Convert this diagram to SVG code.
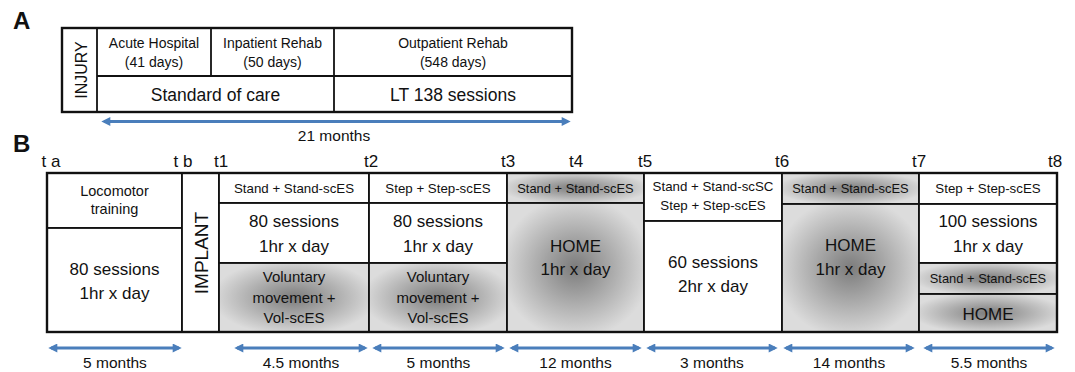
<svg xmlns="http://www.w3.org/2000/svg" width="1075" height="372" viewBox="0 0 1075 372">
<defs>
<style>
text{font-family:"Liberation Sans",Arial,sans-serif;fill:#111;}
.lbl{font-weight:bold;font-size:24px;}
.s14{font-size:14px;text-anchor:middle;}
.s13{font-size:13.3px;text-anchor:middle;}
.s129{font-size:12.9px;text-anchor:middle;}
.s15{font-size:15px;text-anchor:middle;}
.s17{font-size:17px;text-anchor:middle;}
.mo{font-size:15.5px;text-anchor:middle;}
.t{font-size:17px;text-anchor:middle;}
.w{fill:#fff;stroke:#111;stroke-width:1.8;}
.g{fill:url(#grad);stroke:#111;stroke-width:1.8;}
.ln{stroke:#111;stroke-width:1.8;fill:none;}
.out{fill:none;stroke:#111;stroke-width:2.4;}
.arr{stroke:#4a7ebb;stroke-width:3;fill:none;marker-start:url(#ah);marker-end:url(#ah);}
</style>
<radialGradient id="grad" cx="0.5" cy="0.5" r="0.55">
<stop offset="0" stop-color="#7c7c7c"/>
<stop offset="1" stop-color="#dcdcdc"/>
</radialGradient>
<marker id="ah" viewBox="0 0 10 10" refX="7" refY="5" markerWidth="10" markerHeight="9" markerUnits="userSpaceOnUse" orient="auto-start-reverse">
<path d="M0,0 L10,5 L0,10 z" fill="#4a7ebb"/>
</marker>
</defs>
<rect width="1075" height="372" fill="#fff"/>

<text class="lbl" x="13" y="29">A</text>
<text class="lbl" x="13" y="152">B</text>

<g id="panelA">
<rect class="w" x="62" y="28" width="510" height="84"/>
<line class="ln" x1="97" y1="28" x2="97" y2="112"/>
<line class="ln" x1="97" y1="76" x2="572" y2="76"/>
<line class="ln" x1="211" y1="28" x2="211" y2="76"/>
<line class="ln" x1="334" y1="28" x2="334" y2="112"/>
<rect class="out" x="62" y="28" width="510" height="84"/>
<text class="s14" font-size="16" transform="translate(86.5,70) rotate(-90)" style="font-size:16px">INJURY</text>
<text class="s14" x="154" y="48">Acute Hospital</text>
<text class="s14" x="154" y="67">(41 days)</text>
<text class="s14" x="272.5" y="48">Inpatient Rehab</text>
<text class="s14" x="272.5" y="67">(50 days)</text>
<text class="s14" x="453" y="48">Outpatient Rehab</text>
<text class="s14" x="453" y="67">(548 days)</text>
<text class="s17" x="215.5" y="101" style="font-size:17.5px">Standard of care</text>
<text class="s17" x="453" y="101" style="font-size:17.5px">LT 138 sessions</text>
</g>

<g id="timepoints">
<text class="t" x="51" y="167">t a</text>
<text class="t" x="183" y="167">t b</text>
<text class="t" x="221" y="167">t1</text>
<text class="t" x="371" y="167">t2</text>
<text class="t" x="508" y="167">t3</text>
<text class="t" x="576" y="167">t4</text>
<text class="t" x="645" y="167">t5</text>
<text class="t" x="782" y="167">t6</text>
<text class="t" x="919" y="167">t7</text>
<text class="t" x="1055" y="167">t8</text>
</g>

<g id="col-ta-tb">
<rect class="w" x="47" y="173" width="135" height="55"/>
<rect class="w" x="47" y="228" width="135" height="104"/>
<text class="s14" x="114.5" y="196" style="font-size:14.5px">Locomotor</text>
<text class="s14" x="114.5" y="214" style="font-size:14.5px">training</text>
<text class="s17" x="114.5" y="275">80 sessions</text>
<text class="s17" x="114.5" y="299">1hr x day</text>
</g>

<g id="col-implant">
<rect class="w" x="182" y="173" width="37" height="159"/>
<text class="s17" transform="translate(208,253) rotate(-90)" style="font-size:19px">IMPLANT</text>
</g>

<g id="col-t1-t2">
<rect class="w" x="219" y="173" width="150" height="30"/>
<rect class="w" x="219" y="203" width="150" height="60"/>
<rect class="g" x="219" y="263" width="150" height="69"/>
<text class="s13" x="294" y="193">Stand + Stand-scES</text>
<text class="s17" x="294" y="227">80 sessions</text>
<text class="s17" x="294" y="252">1hr x day</text>
<text class="s15" x="294" y="282">Voluntary</text>
<text class="s15" x="294" y="303">movement +</text>
<text class="s15" x="294" y="323">Vol-scES</text>
</g>

<g id="col-t2-t3">
<rect class="w" x="369" y="173" width="138" height="30"/>
<rect class="w" x="369" y="203" width="138" height="60"/>
<rect class="g" x="369" y="263" width="138" height="69"/>
<text class="s13" x="438" y="193">Step + Step-scES</text>
<text class="s17" x="438" y="227">80 sessions</text>
<text class="s17" x="438" y="252">1hr x day</text>
<text class="s15" x="438" y="282">Voluntary</text>
<text class="s15" x="438" y="303">movement +</text>
<text class="s15" x="438" y="323">Vol-scES</text>
</g>

<g id="col-t3-t5">
<rect class="g" x="507" y="173" width="137" height="30"/>
<rect class="g" x="507" y="203" width="137" height="129"/>
<text class="s129" x="575.5" y="193">Stand + Stand-scES</text>
<text class="s17" x="575.5" y="252">HOME</text>
<text class="s17" x="575.5" y="275">1hr x day</text>
</g>

<g id="col-t5-t6">
<rect class="w" x="644" y="173" width="138" height="48"/>
<rect class="w" x="644" y="221" width="138" height="111"/>
<text class="s13" x="713" y="191">Stand + Stand-scSC</text>
<text class="s13" x="713" y="210">Step + Step-scES</text>
<text class="s17" x="713" y="268">60 sessions</text>
<text class="s17" x="713" y="292">2hr x day</text>
</g>

<g id="col-t6-t7">
<rect class="g" x="782" y="173" width="137" height="31"/>
<rect class="g" x="782" y="204" width="137" height="128"/>
<text class="s129" x="850.5" y="193">Stand + Stand-scES</text>
<text class="s17" x="850.5" y="251">HOME</text>
<text class="s17" x="850.5" y="275">1hr x day</text>
</g>

<g id="col-t7-t8">
<rect class="w" x="919" y="173" width="138" height="31"/>
<rect class="w" x="919" y="204" width="138" height="59"/>
<rect class="g" x="919" y="263" width="138" height="31"/>
<rect class="g" x="919" y="294" width="138" height="38"/>
<text class="s13" x="988" y="193">Step + Step-scES</text>
<text class="s17" x="988" y="227">100 sessions</text>
<text class="s17" x="988" y="252">1hr x day</text>
<text class="s129" x="988" y="283">Stand + Stand-scES</text>
<text class="s17" x="988" y="320">HOME</text>
</g>

<rect class="out" x="47" y="173" width="1010" height="159"/>

<g id="connectors">
<line class="arr" x1="104" y1="121.5" x2="568" y2="121.5"/>
<line class="arr" x1="51" y1="348" x2="179" y2="348"/>
<line class="arr" x1="237" y1="348" x2="365" y2="348"/>
<line class="arr" x1="375" y1="348" x2="502" y2="348"/>
<line class="arr" x1="512" y1="348" x2="639" y2="348"/>
<line class="arr" x1="649" y1="348" x2="775" y2="348"/>
<line class="arr" x1="786" y1="348" x2="912" y2="348"/>
<line class="arr" x1="926" y1="348" x2="1052" y2="348"/>
</g>

<g id="durations">
<text class="mo" x="334" y="141">21 months</text>
<text class="mo" x="115" y="368">5 months</text>
<text class="mo" x="301" y="368">4.5 months</text>
<text class="mo" x="438.5" y="368">5 months</text>
<text class="mo" x="575.5" y="368">12 months</text>
<text class="mo" x="712" y="368">3 months</text>
<text class="mo" x="849" y="368">14 months</text>
<text class="mo" x="989" y="368">5.5 months</text>
</g>
</svg>
